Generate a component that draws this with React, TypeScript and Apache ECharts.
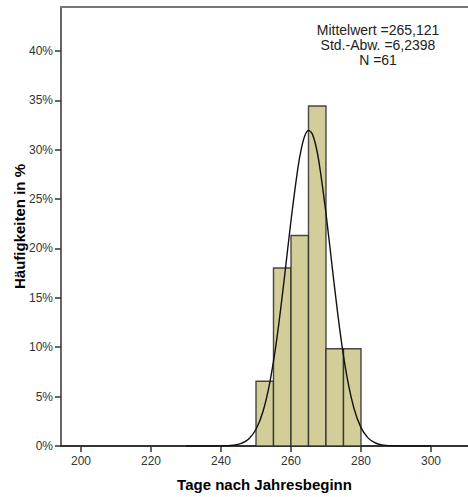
import React, { useEffect, useRef } from "react";
import * as echarts from "echarts";

const binStarts = [250, 255, 260, 265, 270, 275];
const binWidth = 5;
const binPercents = [6.56, 18.03, 21.31, 34.43, 9.84, 9.84];

const curveX = [230, 235, 238, 241, 244, 246, 248, 250, 252, 254, 256, 258, 260, 262, 263, 264, 265, 266, 267, 268, 270, 272, 274, 276, 278, 280, 282, 284, 286, 289, 292, 295, 300];
const curveY = [0, 0.0003, 0.0025, 0.018, 0.104, 0.292, 0.741, 1.696, 3.5, 6.53, 10.98, 16.67, 22.83, 28.21, 30.18, 31.46, 31.96, 31.65, 30.55, 28.74, 23.55, 17.41, 11.61, 6.99, 3.8, 1.86, 0.824, 0.329, 0.119, 0.021, 0.003, 0.0003, 0];

const xTicks = [200, 220, 240, 260, 280, 300];
const yTicks = [0, 5, 10, 15, 20, 25, 30, 35, 40];

const statLines = ["Mittelwert =265,121", "Std.-Abw. =6,2398", "N =61"];

export default function App() {
  const ref = useRef<HTMLDivElement>(null);
  useEffect(() => {
    if (!ref.current) return;
    const chart = echarts.init(ref.current, null, { renderer: "svg" });
    const font = "Liberation Sans, Arial, sans-serif";
    chart.setOption({
      animation: false,
      grid: { left: 61, top: 7, right: 0, bottom: 51, show: false, containLabel: false, outerBoundsMode: "none" },
      xAxis: {
        type: "value",
        min: 194.29,
        max: 310.57,
        name: "Tage nach Jahresbeginn",
        nameLocation: "middle",
        nameGap: 31,
        nameMoveOverlap: false,
        nameTextStyle: { fontFamily: font, fontWeight: "bold", fontSize: 15, color: "#000" },
        axisLine: { show: true, onZero: false, lineStyle: { color: "#333", width: 2 } },
        axisTick: { show: true, customValues: xTicks, length: 6, inside: false, lineStyle: { color: "#333", width: 1.5 } },
        axisLabel: { customValues: xTicks, fontFamily: font, fontSize: 12, color: "#333", margin: 9 },
        splitLine: { show: false },
      },
      yAxis: {
        type: "value",
        min: 0,
        max: 44.45,
        name: "Häufigkeiten in %",
        nameLocation: "middle",
        nameGap: 34,
        nameMoveOverlap: false,
        nameTextStyle: { fontFamily: font, fontWeight: "bold", fontSize: 15, color: "#000" },
        axisLine: { show: true, lineStyle: { color: "#666", width: 2 } },
        axisTick: { show: true, customValues: yTicks, length: 6, inside: false, lineStyle: { color: "#333", width: 1.5 } },
        axisLabel: { customValues: yTicks, formatter: "{value}%", fontFamily: font, fontSize: 12, color: "#333", margin: 8 },
        splitLine: { show: false },
      },
      graphic: [
        {
          type: "line",
          shape: { x1: 60, y1: 7, x2: 470, y2: 7 },
          style: { stroke: "#777", lineWidth: 2 },
          z: 10,
        },
        {
          type: "text",
          x: 378,
          y: 22,
          style: {
            text: statLines.join("\n"),
            textAlign: "center",
            textVerticalAlign: "top",
            font: `14px ${font}`,
            lineHeight: 15,
            fill: "#222",
          },
          z: 10,
        },
      ],
      series: [
        {
          type: "custom",
          data: binStarts.map((s, i) => [s, s + binWidth, binPercents[i]]),
          renderItem: (params: any, api: any) => {
            const p0 = api.coord([api.value(0), 0]);
            const p1 = api.coord([api.value(1), api.value(2)]);
            return {
              type: "rect",
              shape: { x: p0[0], y: p1[1], width: p1[0] - p0[0], height: p0[1] - p1[1] },
              style: { fill: "#D3CE99", stroke: "#2a2a2a", lineWidth: 1.4, strokeOpacity: 0.85 },
            };
          },
          z: 2,
        },
        {
          type: "line",
          data: curveX.map((x, i) => [x, curveY[i]]),
          smooth: 0.3,
          showSymbol: false,
          lineStyle: { color: "#111", width: 1.4 },
          z: 3,
        },
      ],
    });
    return () => chart.dispose();
  }, []);
  return <div ref={ref} style={{ position: "absolute", left: 0, top: 0, width: 468, height: 497 }} />;
}
